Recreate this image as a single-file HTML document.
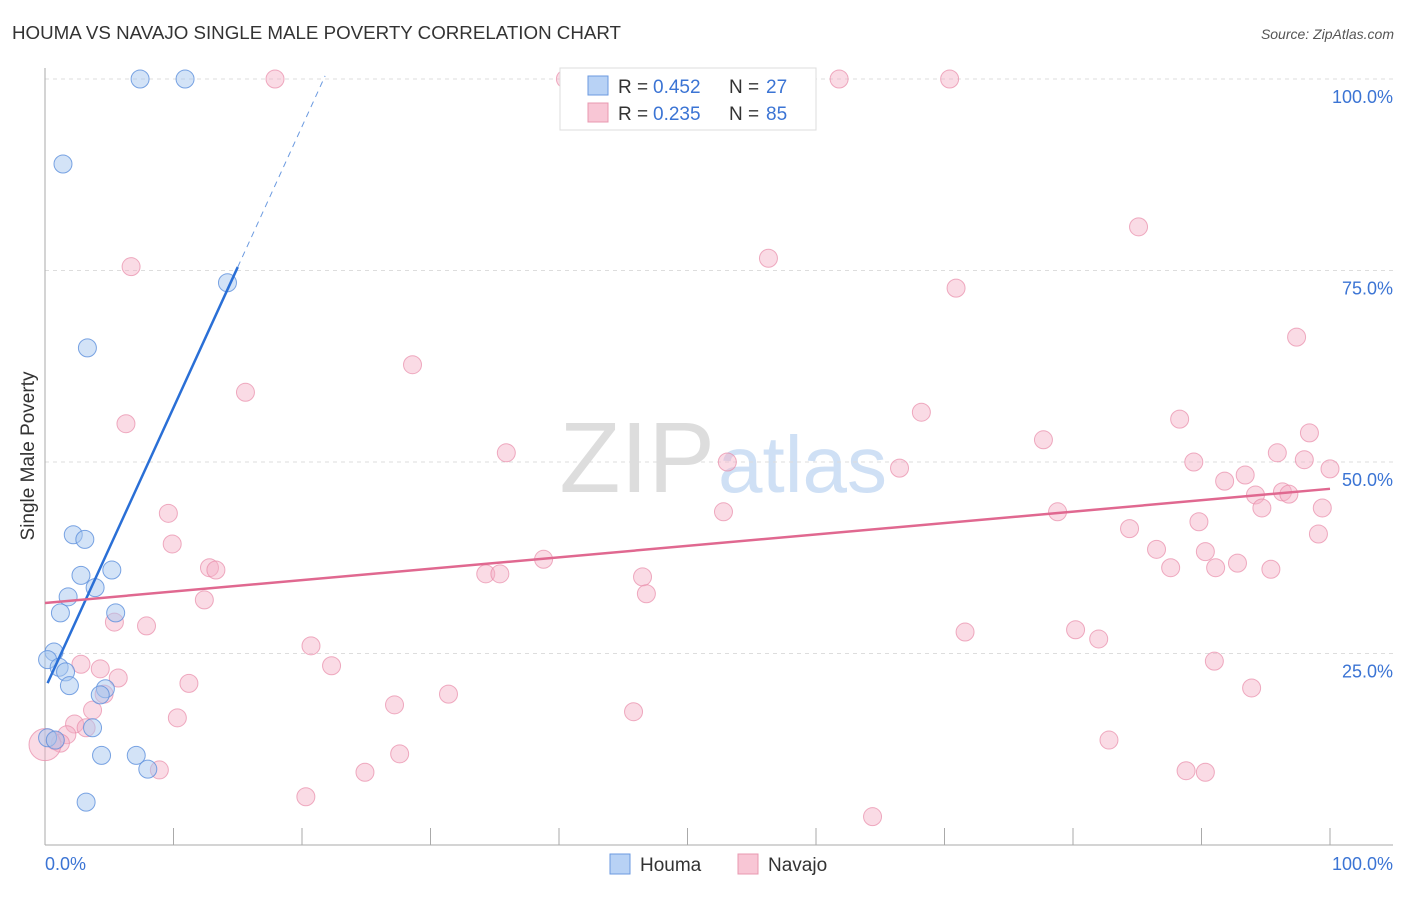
<!DOCTYPE html>
<html><head><meta charset="utf-8"><style>
body{margin:0;background:#fff;font-family:"Liberation Sans",sans-serif}
svg text{font-family:"Liberation Sans",sans-serif}
</style></head><body>
<svg id="c" width="1406" height="892">
<text x="12" y="39" font-size="18" textLength="609" lengthAdjust="spacingAndGlyphs" fill="#333">HOUMA VS NAVAJO SINGLE MALE POVERTY CORRELATION CHART</text>
<text x="1394" y="39" font-size="14" fill="#555" font-style="italic" text-anchor="end">Source: ZipAtlas.com</text>
<text x="715" y="492" font-size="100" fill="#ddd" text-anchor="end" font-family="Liberation Serif">ZIP</text>
<text x="718" y="492" font-size="80" fill="#cfe0f5">atlas</text>
<text transform="translate(34,456) rotate(-90)" font-size="19" fill="#333" text-anchor="middle">Single Male Poverty</text>
<g id="grid"></g><g id="pts"></g><g id="trend"></g>
<g>
<rect x="560" y="68" width="256" height="62" fill="#fff" stroke="#ddd"/>
<rect x="588" y="76" width="20" height="19" fill="#b8d2f5" stroke="#6b9ae0"/>
<text x="618" y="93" font-size="19" fill="#333">R =</text>
<text x="653" y="93" font-size="19" fill="#3b74d4">0.452</text>
<text x="729" y="93" font-size="19" fill="#333">N =</text>
<text x="766" y="93" font-size="19" fill="#3b74d4">27</text>
<rect x="588" y="103" width="20" height="19" fill="#f8c6d5" stroke="#e898b0"/>
<text x="618" y="120" font-size="19" fill="#333">R =</text>
<text x="653" y="120" font-size="19" fill="#3b74d4">0.235</text>
<text x="729" y="120" font-size="19" fill="#333">N =</text>
<text x="766" y="120" font-size="19" fill="#3b74d4">85</text>
</g>
<g>
<rect x="610" y="854" width="20" height="20" fill="#b8d2f5" stroke="#6b9ae0"/>
<text x="640" y="871" font-size="19" fill="#333">Houma</text>
<rect x="738" y="854" width="20" height="20" fill="#f8c6d5" stroke="#e898b0"/>
<text x="768" y="871" font-size="19" fill="#333">Navajo</text>
</g>
</svg>
<script>
const yTicks=[25,50,75,100];
const yTickLabels=["25.0%","50.0%","75.0%","100.0%"];
const xTicks=[0,10,20,30,40,50,60,70,80,90,100];
const houmaX=[7.4,10.9,1.4,14.2,3.3,2.2,3.1,2.8,5.2,1.8,3.9,1.2,5.5,0.7,0.2,1.1,1.6,1.9,4.7,4.3,0.2,0.8,3.7,4.4,7.1,8.0,3.2];
const houmaY=[100,100,88.9,73.4,64.9,40.5,39.9,35.2,35.9,32.4,33.6,30.3,30.3,25.2,24.2,23.2,22.6,20.8,20.4,19.6,14.0,13.7,15.3,11.7,11.7,9.9,5.6];
const navajoX=[17.9,40.5,61.8,70.4,85.1,56.3,6.7,70.9,97.4,28.6,15.6,6.3,68.2,88.3,98.4,77.7,35.9,95.9,89.4,98.0,100,53.1,66.5,93.4,91.8,94.2,96.3,96.8,94.7,99.4,9.6,52.8,78.8,89.8,84.4,99.1,9.9,86.5,90.3,38.8,87.6,91.1,92.8,95.4,12.8,13.3,34.3,35.4,46.5,46.8,12.4,5.4,7.9,71.6,80.2,82.0,20.7,2.8,4.3,22.3,91.0,5.7,11.2,31.4,4.6,93.9,3.7,45.8,27.2,10.3,2.3,3.2,1.7,82.8,0.8,1.2,27.6,24.9,8.9,88.8,90.3,20.3,64.4,0];
const navajoY=[100,100,100,100,80.7,76.6,75.5,72.7,66.3,62.7,59.1,55.0,56.5,55.6,53.8,52.9,51.2,51.2,50.0,50.3,49.1,50.0,49.2,48.3,47.5,45.7,46.1,45.8,44.0,44.0,43.3,43.5,43.5,42.2,41.3,40.6,39.3,38.6,38.3,37.3,36.2,36.2,36.8,36.0,36.2,35.9,35.4,35.4,35.0,32.8,32.0,29.1,28.6,27.8,28.1,26.9,26.0,23.6,23.0,23.4,24.0,21.8,21.1,19.7,19.7,20.5,17.6,17.4,18.3,16.6,15.8,15.3,14.4,13.7,13.6,13.3,11.9,9.5,9.8,9.7,9.5,6.3,3.7,13.1];
const houmaTrend=[20.4,3.67];
const navajoTrend=[31.6,0.149];
const NS="http://www.w3.org/2000/svg";
const X=v=>45+v*12.85, Y=v=>845-v*7.66;
function mk(t,a,p){const e=document.createElementNS(NS,t);for(const k in a)e.setAttribute(k,a[k]);p.appendChild(e);return e;}
const grid=document.getElementById('grid');
yTicks.forEach((t,i)=>{
 const l=mk('line',{x1:45,x2:1393,y1:Y(t),y2:Y(t),stroke:'#ddd','stroke-dasharray':'4,4'},grid);
 
 
 const tx=mk('text',{x:1393,y:Y(t)+24,'font-size':18,fill:'#3b74d4','text-anchor':'end'},grid);
 tx.textContent=yTickLabels[i];
 
 
});
const ax=mk('line',{x1:45,x2:1393,y1:845,y2:845,stroke:'#aaa'},grid);


const ay=mk('line',{x1:45,x2:45,y1:68,y2:845,stroke:'#aaa'},grid);


xTicks.forEach(t=>{
 const l=mk('line',{x1:X(t),x2:X(t),y1:828,y2:845,stroke:'#aaa'},grid);
 
 
});
[[0,"0.0%",'start',45],[100,"100.0%",'end',1393]].forEach(d=>{
 const tx=mk('text',{x:d[3],y:870,'font-size':18,fill:'#3b74d4','text-anchor':d[2]},grid);
 tx.textContent=d[1];
 
 
});
const pts=document.getElementById('pts');
navajoX.forEach((x,i)=>{
 const big=(x===0&&navajoY[i]===13.1);
 const c=mk('circle',{cx:X(x),cy:Y(navajoY[i]),r:big?16:9,fill:'#f4b0c6','fill-opacity':0.45,stroke:'#e88aa8','stroke-opacity':0.7},pts);
 
 
});
houmaX.forEach((x,i)=>{
 const c=mk('circle',{cx:X(x),cy:Y(houmaY[i]),r:9,fill:'#a8c8f0','fill-opacity':0.5,stroke:'#5b8fdc','stroke-opacity':0.8},pts);
 
 
});
const tr=document.getElementById('trend');
const hf=x=>houmaTrend[0]+houmaTrend[1]*x;
let l=mk('line',{x1:X(0.2),y1:Y(hf(0.2)),x2:X(15),y2:Y(hf(15)),stroke:'#2a6fd6','stroke-width':2.5},tr);


l=mk('line',{x1:X(15),y1:Y(hf(15)),x2:X(21.8),y2:Y(hf(21.8)),stroke:'#6b9ae0','stroke-width':1,'stroke-dasharray':'6,5'},tr);


const nf=x=>navajoTrend[0]+navajoTrend[1]*x;
l=mk('line',{x1:X(0),y1:Y(nf(0)),x2:X(100),y2:Y(nf(100)),stroke:'#e06890','stroke-width':2.5},tr);


</script>
</body></html>
